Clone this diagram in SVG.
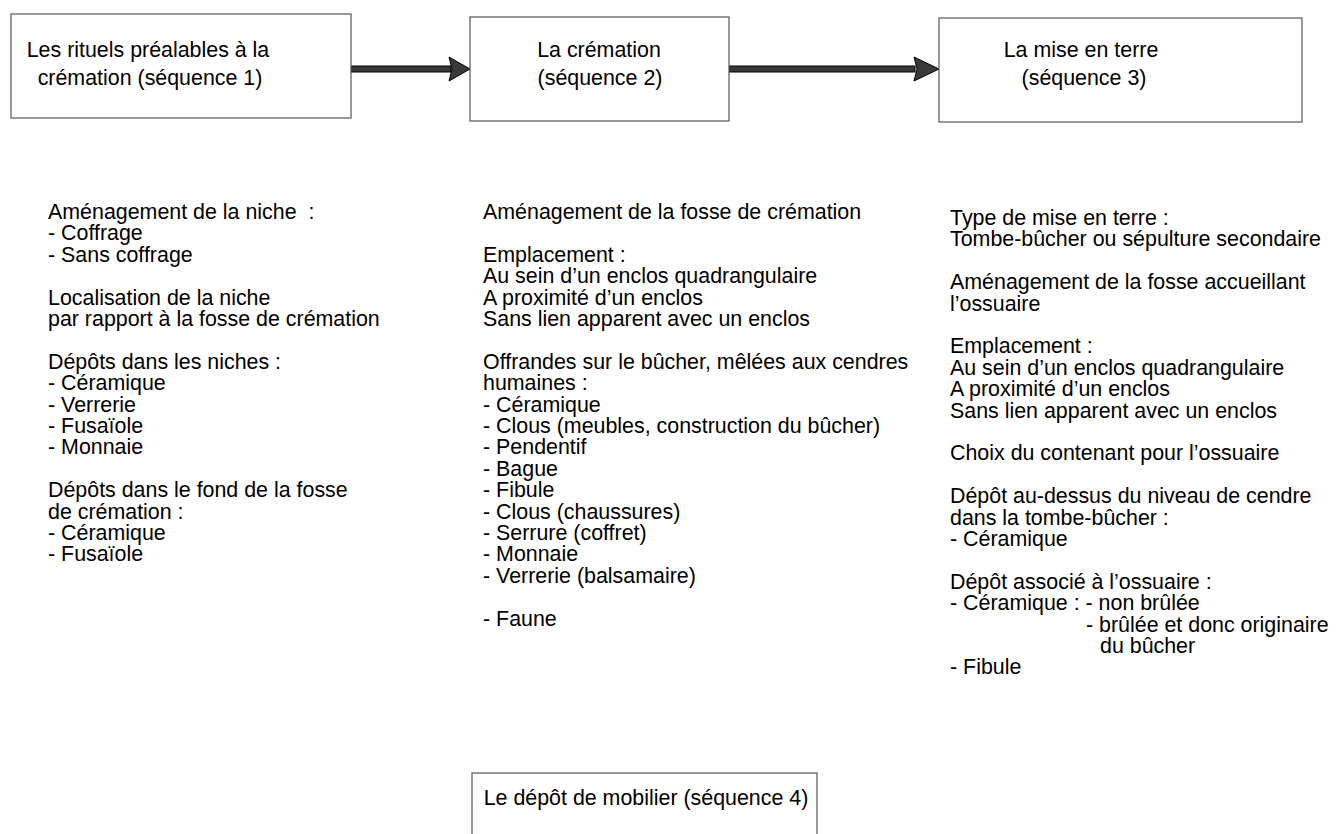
<svg xmlns="http://www.w3.org/2000/svg" width="1337" height="834" viewBox="0 0 1337 834">
<style>
.box{fill:#fff;stroke:#555;stroke-width:1.2}
.t{font-family:"Liberation Sans",Arial,sans-serif;font-size:21.4px;fill:#000}
.shaft{fill:#383838;stroke:#000;stroke-width:1}
.head{fill:#3a3a3a;stroke:#000;stroke-width:1}
</style>
<rect width="1337" height="834" fill="#fff"/>
<g id="connectors">
<rect class="shaft" x="351" y="66" width="100" height="6"/>
<polygon class="head" points="449,57 470,69 449,81 452,69"/>
<rect class="shaft" x="729" y="66" width="186" height="6"/>
<polygon class="head" points="914,57 939,69 914,81 917,69"/>
</g>
<g id="seq1">
<rect class="box" x="11" y="14" width="340" height="104"/>
<text class="t" text-anchor="middle"><tspan x="148" y="57">Les rituels préalables à la</tspan><tspan x="150" y="85">crémation (séquence 1)</tspan></text>
</g>
<g id="seq2">
<rect class="box" x="470" y="17" width="259" height="104"/>
<text class="t" text-anchor="middle"><tspan x="599" y="57">La crémation</tspan><tspan x="600" y="85">(séquence 2)</tspan></text>
</g>
<g id="seq3">
<rect class="box" x="939" y="18" width="363" height="104"/>
<text class="t" text-anchor="middle"><tspan x="1081" y="57">La mise en terre</tspan><tspan x="1084" y="85">(séquence 3)</tspan></text>
</g>
<g id="seq4">
<rect class="box" x="472" y="773" width="345" height="80"/>
<text class="t" x="646" y="805" text-anchor="middle">Le dépôt de mobilier (séquence 4)</text>
</g>
<g id="list1">
<text class="t">
<tspan x="48" y="219">Aménagement de la niche&#160; :</tspan>
<tspan x="48" y="240.4">- Coffrage</tspan>
<tspan x="48" y="261.8">- Sans coffrage</tspan>
<tspan x="48" y="304.6">Localisation de la niche</tspan>
<tspan x="48" y="326">par rapport à la fosse de crémation</tspan>
<tspan x="48" y="368.8">Dépôts dans les niches :</tspan>
<tspan x="48" y="390.2">- Céramique</tspan>
<tspan x="48" y="411.6">- Verrerie</tspan>
<tspan x="48" y="433">- Fusaïole</tspan>
<tspan x="48" y="454.4">- Monnaie</tspan>
<tspan x="48" y="497.2">Dépôts dans le fond de la fosse</tspan>
<tspan x="48" y="518.6">de crémation :</tspan>
<tspan x="48" y="540">- Céramique</tspan>
<tspan x="48" y="561.4">- Fusaïole</tspan>
</text>
</g>
<g id="list2">
<text class="t">
<tspan x="483" y="219">Aménagement de la fosse de crémation</tspan>
<tspan x="483" y="261.8">Emplacement :</tspan>
<tspan x="483" y="283.2">Au sein d’un enclos quadrangulaire</tspan>
<tspan x="483" y="304.6">A proximité d’un enclos</tspan>
<tspan x="483" y="326">Sans lien apparent avec un enclos</tspan>
<tspan x="483" y="368.8">Offrandes sur le bûcher, mêlées aux cendres</tspan>
<tspan x="483" y="390.2">humaines :</tspan>
<tspan x="483" y="411.6">- Céramique</tspan>
<tspan x="483" y="433">- Clous (meubles, construction du bûcher)</tspan>
<tspan x="483" y="454.4">- Pendentif</tspan>
<tspan x="483" y="475.8">- Bague</tspan>
<tspan x="483" y="497.2">- Fibule</tspan>
<tspan x="483" y="518.6">- Clous (chaussures)</tspan>
<tspan x="483" y="540">- Serrure (coffret)</tspan>
<tspan x="483" y="561.4">- Monnaie</tspan>
<tspan x="483" y="582.8">- Verrerie (balsamaire)</tspan>
<tspan x="483" y="625.6">- Faune</tspan>
</text>
</g>
<g id="list3">
<text class="t">
<tspan x="950" y="225">Type de mise en terre :</tspan>
<tspan x="950" y="246.4">Tombe-bûcher ou sépulture secondaire</tspan>
<tspan x="950" y="289.2">Aménagement de la fosse accueillant</tspan>
<tspan x="950" y="310.6">l’ossuaire</tspan>
<tspan x="950" y="353.4">Emplacement :</tspan>
<tspan x="950" y="374.8">Au sein d’un enclos quadrangulaire</tspan>
<tspan x="950" y="396.2">A proximité d’un enclos</tspan>
<tspan x="950" y="417.6">Sans lien apparent avec un enclos</tspan>
<tspan x="950" y="460.4">Choix du contenant pour l’ossuaire</tspan>
<tspan x="950" y="503.2">Dépôt au-dessus du niveau de cendre</tspan>
<tspan x="950" y="524.6">dans la tombe-bûcher :</tspan>
<tspan x="950" y="546">- Céramique</tspan>
<tspan x="950" y="588.8">Dépôt associé à l’ossuaire :</tspan>
<tspan x="950" y="610.2">- Céramique : - non brûlée</tspan>
<tspan x="1086" y="631.6">- brûlée et donc originaire</tspan>
<tspan x="1100" y="653">du bûcher</tspan>
<tspan x="950" y="674.4">- Fibule</tspan>
</text>
</g>
</svg>
